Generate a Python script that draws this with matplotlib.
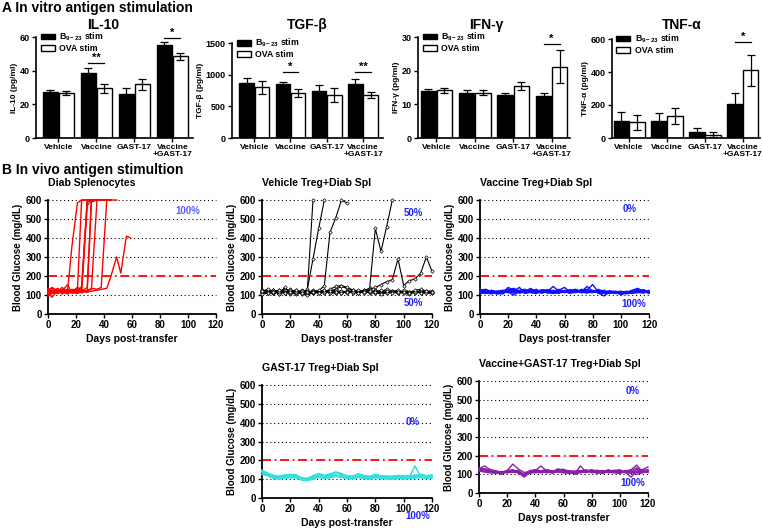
import numpy as np
import matplotlib
matplotlib.use('Agg')
from matplotlib import pyplot as plt
from matplotlib.patches import Patch

plt.rcParams['font.family'] = ['Liberation Sans', 'DejaVu Sans']
plt.rcParams['font.weight'] = 'bold'
plt.rcParams['mathtext.fontset'] = 'custom'
plt.rcParams['mathtext.rm'] = 'Liberation Sans:bold'
plt.rcParams['mathtext.it'] = 'Liberation Sans:bold'
plt.rcParams['mathtext.bf'] = 'Liberation Sans:bold'

#%% data, panel A (in vitro)
groups = ['Vehicle', 'Vaccine', 'GAST-17', 'Vaccine\n+GAST-17']

il10_b, il10_be = [27.2, 38.6, 26.3, 55.0], [1.5, 2.8, 3.4, 2.2]
il10_o, il10_oe = [26.7, 29.5, 31.9, 48.5], [1.2, 2.5, 3.1, 2.0]
tgf_b, tgf_be = [868, 847, 737, 858], [74, 37, 100, 74]
tgf_o, tgf_oe = [800, 710, 674, 674], [100, 64, 110, 47]
ifn_b, ifn_be = [13.9, 13.5, 12.8, 12.6], [0.8, 0.9, 0.7, 0.7]
ifn_o, ifn_oe = [14.2, 13.5, 15.5, 21.2], [0.7, 0.7, 1.2, 4.9]
tnf_b, tnf_be = [105, 101, 34, 206], [55, 50, 26, 67]
tnf_o, tnf_oe = [95, 131, 20, 410], [47, 48, 14, 95]

#%% data, panel B (in vivo) - blood glucose, mg/dL
days = [0, 4, 8, 12, 16, 20, 24, 28, 32, 36, 40, 44, 48, 52, 56, 60,
        64, 68, 72, 76, 80, 84, 88, 92, 96, 100, 104, 108, 112, 116, 120]
days_diab = [0, 3, 7, 10, 14, 17, 21, 24, 28, 31, 35, 38, 42, 45, 49, 52, 56, 59]

diab = [
    [118, 125, 110, 128, 122, 350, 585, 600, 600, 600, 600, 600, 600, 600],
    [105, 120, 135, 115, 110, 130, 125, 600, 600, 600, 600],
    [125, 140, 118, 120, 108, 115, 140, 130, 600, 600, 600, 600, 600],
    [112, 118, 128, 105, 125, 110, 120, 145, 590, 600, 600, 600],
    [130, 110, 115, 140, 118, 125, 110, 120, 140, 600, 600, 600, 600, 600],
    [95, 108, 122, 112, 130, 115, 118, 112, 125, 130, 600, 600, 600, 600],
    [120, 135, 112, 118, 105, 128, 115, 125, 120, 135, 130, 140, 600, 600],
    [100, 115, 120, 110, 125, 112, 108, 118, 115, 120, 125, 130, 135, 200, 300, 215, 410, 400],
    [110, 88, 130, 125, 112, 120, 135, 110, 570, 600, 600],
    [135, 115, 108, 120, 155, 110, 130, 125, 115, 590, 600, 600, 600, 600, 600],
]

vehicle = [
    [120, 110, 125, 105, 115, 130, 112, 118, 125, 600],
    [115, 125, 108, 120, 130, 105, 118, 112, 130, 290, 450, 600],
    [125, 118, 112, 128, 110, 120, 125, 115, 118, 110, 120, 150, 430, 505, 598, 585],
    [112, 120, 118, 110, 125, 115, 108, 120, 115, 118, 112, 125, 118, 110, 120, 115,
     118, 112, 125, 135, 450, 330, 460, 600],
    [118, 112, 125, 120, 110, 118, 115, 125, 120, 112, 118, 115, 122, 130, 145, 135,
     128, 120, 125, 130, 140, 155, 170, 180, 290, 150, 175, 185, 215, 300, 225],
    [118, 125, 110, 112, 128, 120, 105, 118, 112, 125, 120, 115, 130, 145, 150, 140,
     125, 118, 120, 112, 125, 118, 130, 122, 115, 120, 118, 112, 125, 118, 120],
    [110, 118, 125, 105, 140, 112, 118, 110, 105, 120, 115, 112, 118, 125, 118, 120,
     112, 115, 118, 125, 110, 118, 112, 120, 125, 115, 112, 118, 110, 115, 112],
    [125, 112, 118, 120, 115, 108, 112, 120, 118, 110, 125, 120, 112, 118, 110, 115,
     120, 125, 112, 118, 120, 112, 118, 115, 110, 125, 118, 120, 115, 122, 118],
    [105, 110, 115, 118, 110, 125, 115, 105, 98, 115, 110, 118, 112, 110, 120, 112,
     115, 110, 120, 115, 112, 105, 110, 118, 112, 110, 105, 115, 112, 108, 110],
    [120, 130, 118, 125, 112, 118, 125, 112, 115, 118, 112, 125, 120, 115, 112, 118,
     125, 112, 115, 120, 118, 125, 120, 112, 118, 115, 112, 125, 130, 120, 115],
]

vaccine = [
    [118, 125, 112, 108, 120, 132, 115, 118, 125, 120, 112, 118, 128, 122, 115, 120,
     125, 130, 118, 145, 120, 112, 115, 118, 110, 112, 120, 108, 125, 118, 115],
    [112, 118, 120, 105, 110, 140, 125, 110, 118, 128, 120, 125, 110, 118, 130, 115,
     112, 120, 125, 130, 115, 118, 110, 108, 115, 120, 112, 118, 130, 112, 120],
    [125, 130, 118, 112, 105, 125, 135, 120, 112, 118, 125, 115, 120, 145, 120, 118,
     110, 115, 120, 125, 155, 115, 120, 112, 118, 108, 115, 125, 135, 120, 110],
    [108, 112, 125, 118, 112, 118, 120, 140, 108, 115, 118, 128, 125, 112, 110, 125,
     118, 112, 130, 118, 125, 110, 95, 115, 120, 115, 108, 112, 118, 125, 112],
    [120, 115, 110, 115, 118, 112, 128, 115, 120, 135, 115, 110, 118, 120, 125, 140,
     115, 120, 112, 120, 118, 125, 112, 118, 108, 110, 118, 115, 120, 128, 118],
    [115, 108, 115, 120, 125, 120, 110, 125, 130, 112, 108, 120, 115, 125, 118, 112,
     120, 125, 115, 110, 120, 118, 125, 110, 112, 118, 105, 120, 115, 110, 125],
    [128, 122, 118, 110, 115, 128, 118, 112, 115, 120, 130, 112, 122, 115, 110, 118,
     128, 118, 120, 115, 112, 130, 118, 122, 115, 112, 110, 118, 122, 120, 108],
    [110, 115, 105, 118, 122, 115, 100, 118, 110, 125, 118, 122, 112, 108, 115, 120,
     110, 128, 112, 118, 122, 112, 108, 120, 118, 100, 112, 110, 112, 115, 118],
]

gast = [
    [145, 132, 120, 115, 122, 125, 120, 108, 104, 118, 130, 120, 125, 135, 128, 118,
     116, 128, 120, 114, 125, 118, 116, 114, 120, 116, 118, 120, 125, 118, 122],
    [135, 118, 110, 105, 110, 118, 116, 102, 98, 106, 116, 112, 120, 122, 116, 112,
     105, 115, 112, 108, 118, 112, 110, 106, 105, 110, 112, 170, 112, 108, 115],
    [148, 130, 120, 114, 112, 118, 124, 104, 96, 114, 128, 112, 118, 138, 130, 112,
     114, 126, 112, 106, 118, 112, 110, 115, 118, 110, 112, 115, 124, 118, 115],
    [125, 118, 105, 100, 104, 108, 108, 95, 92, 100, 110, 104, 108, 114, 110, 104,
     100, 110, 104, 100, 108, 104, 100, 100, 104, 102, 104, 106, 108, 104, 106],
    [140, 128, 118, 114, 120, 124, 118, 106, 104, 116, 122, 118, 128, 138, 124, 116,
     114, 126, 118, 114, 124, 116, 116, 112, 118, 116, 118, 120, 124, 118, 120],
    [142, 120, 112, 106, 110, 114, 112, 98, 95, 106, 116, 108, 114, 120, 116, 108,
     106, 116, 108, 104, 114, 108, 106, 104, 108, 106, 108, 110, 114, 108, 110],
]

vac_gast = [
    [130, 145, 125, 118, 108, 120, 155, 128, 110, 115, 122, 118, 125, 118, 120, 125,
     118, 112, 120, 118, 125, 115, 108, 120, 115, 112, 118, 125, 150, 112, 120],
    [125, 130, 118, 110, 105, 115, 118, 120, 90, 115, 120, 145, 118, 110, 125, 118,
     112, 105, 145, 112, 118, 110, 115, 125, 110, 118, 112, 85, 118, 125, 140],
    [120, 118, 112, 115, 110, 108, 112, 118, 100, 118, 115, 112, 110, 120, 115, 112,
     108, 110, 115, 122, 112, 118, 120, 108, 115, 110, 120, 115, 110, 112, 115],
    [135, 125, 120, 108, 115, 112, 115, 110, 85, 110, 118, 120, 108, 112, 130, 120,
     115, 100, 110, 118, 120, 112, 105, 115, 118, 125, 108, 120, 112, 118, 110],
    [128, 120, 115, 112, 100, 118, 110, 115, 95, 112, 108, 115, 120, 105, 118, 110,
     120, 115, 108, 125, 108, 115, 118, 110, 112, 115, 110, 105, 128, 115, 112],
    [118, 112, 108, 105, 112, 110, 120, 105, 98, 105, 112, 108, 115, 110, 112, 108,
     105, 110, 112, 110, 115, 105, 110, 112, 108, 105, 115, 110, 100, 108, 118],
    [132, 128, 122, 118, 112, 120, 125, 112, 92, 120, 125, 118, 125, 115, 122, 128,
     110, 118, 120, 115, 118, 122, 112, 118, 122, 120, 112, 118, 135, 122, 125],
]

#%% figure
W, H = 763, 531
fig = plt.figure(figsize=(W / 100, H / 100), dpi=100)

def rect(l, r, t, b):
    return [l / W, 1 - b / H, (r - l) / W, (b - t) / H]

def style(ax, lw=1.2):
    for s in ['top', 'right']:
        ax.spines[s].set_visible(False)
    for s in ['left', 'bottom']:
        ax.spines[s].set_linewidth(lw)
    ax.tick_params(direction='out', length=3, width=1, pad=1.5)

fig.text(2 / W, 1 - 8 / H, 'A In vitro antigen stimulation', fontsize=10,
         fontweight='bold', va='center', ha='left')
fig.text(2 / W, 1 - 170 / H, 'B In vivo antigen stimultion', fontsize=10,
         fontweight='bold', va='center', ha='left')

def bar_panel(pos, xl, title, tpos, ylab, b, be, o, oe, ymax, yt, sig):
    ax = fig.add_axes(pos)
    x = np.arange(len(groups))
    ax.bar(x - 0.21, b, 0.4, color='black', edgecolor='black', lw=1)
    ax.errorbar(x - 0.21, b, yerr=be, fmt='none', ecolor='black', elinewidth=0.9, capsize=3, capthick=0.9)
    ax.bar(x + 0.21, o, 0.4, color='white', edgecolor='black', lw=1)
    ax.errorbar(x + 0.21, o, yerr=oe, fmt='none', ecolor='black', elinewidth=0.9, capsize=3, capthick=0.9)
    ax.set_xlim(xl)
    ax.set_ylim(0, ymax)
    ax.set_yticks(yt)
    ax.set_xticks(x)
    ax.set_xticklabels(groups, fontsize=6, fontweight='bold', linespacing=1.0)
    ax.tick_params(axis='x', length=0, pad=4)
    ax.tick_params(axis='y', labelsize=6.5)
    ax.set_ylabel(ylab, fontsize=6, fontweight='bold', labelpad=1)
    style(ax)
    fig.text(tpos[0] / W, 1 - tpos[1] / H, title, ha='center', va='center',
             fontsize=10, fontweight='bold')
    for g, yy, s in sig:
        ax.plot([g - 0.21, g + 0.21], [yy, yy], color='black', lw=0.9, clip_on=False)
        ax.text(g, yy, s, ha='center', va='bottom', fontsize=8, fontweight='bold')
    handles = [Patch(facecolor='black', edgecolor='black'),
               Patch(facecolor='white', edgecolor='black', lw=1)]
    ax.legend(handles, ['B$_{9-23}$ stim', 'OVA stim'], loc='upper left',
              bbox_to_anchor=(0.03, 1.065), frameon=False, fontsize=6.3,
              handlelength=1.6, handleheight=0.6, labelspacing=0.1,
              borderpad=0, borderaxespad=0, handletextpad=0.5)
    return ax

bar_panel(rect(36, 193, 37, 138), (-0.59, 3.54), 'IL-10', (103, 25), 'IL-10 (pg/ml)',
          il10_b, il10_be, il10_o, il10_oe, 60, [0, 20, 40, 60],
          [(1, 44.6, '**'), (3, 59.4, '*')])
bar_panel(rect(232, 383, 43, 138), (-0.61, 3.55), 'TGF-β', (307, 25), 'TGF-β (pg/ml)',
          tgf_b, tgf_be, tgf_o, tgf_oe, 1500, [0, 500, 1000, 1500],
          [(1, 1042, '*'), (3, 1042, '**')])
bar_panel(rect(418, 570, 37, 138), (-0.48, 3.48), 'IFN-γ', (486, 25), 'IFN-γ (pg/ml)',
          ifn_b, ifn_be, ifn_o, ifn_oe, 30, [0, 10, 20, 30],
          [(3, 28.0, '*')])
bar_panel(rect(612, 760, 39, 138), (-0.45, 3.45), 'TNF-α', (682, 25), 'TNF-α (pg/ml)',
          tnf_b, tnf_be, tnf_o, tnf_oe, 600, [0, 200, 400, 600],
          [(3, 580, '*')])

def line_panel(pos, title, series, xs, color, pcts, marker=None, lw=1.0):
    ax = fig.add_axes(pos)
    for yv in [100, 300, 400, 500, 600]:
        ax.axhline(yv, color='black', lw=0.8, ls=(0, (1, 2.5)), zorder=1, clip_on=False)
    ax.axhline(200, color='red', lw=1.3, ls=(0, (5, 2, 1, 2)), zorder=1)
    for v in series:
        n = min(len(xs), len(v))
        if marker:
            ax.plot(xs[:n], v[:n], color=color, lw=lw, marker=marker, ms=1.8,
                    mfc='white', mew=0.5, zorder=3, clip_on=False)
        else:
            ax.plot(xs[:n], v[:n], color=color, lw=lw, zorder=3, clip_on=False)
    ax.set_xlim(0, 120)
    ax.set_ylim(0, 600)
    ax.set_xticks([0, 20, 40, 60, 80, 100, 120])
    ax.set_yticks([0, 100, 200, 300, 400, 500, 600])
    ax.tick_params(labelsize=7)
    ax.set_xlabel('Days post-transfer', fontsize=7.5, fontweight='bold', labelpad=3)
    ax.set_ylabel('Blood Glucose (mg/dL)', fontsize=7, fontweight='bold', labelpad=2)
    ax.set_title(title, fontsize=7.6, fontweight='bold', loc='left', pad=10)
    style(ax, 1.3)
    for tx, ty, s, c in pcts:
        ax.text(tx, ty, s, color=c, fontsize=7, fontweight='bold', ha='center',
                va='center', clip_on=False)
    return ax

blue = '#1f1fff'
line_panel(rect(48, 216, 200, 314), 'Diab Splenocytes', diab, days_diab, 'red',
           [(100, 542, '100%', '#5a5aff')])
line_panel(rect(262, 432, 200, 314), 'Vehicle Treg+Diab Spl', vehicle, days, 'black',
           [(107, 531, '50%', blue), (107, 58, '50%', blue)], marker='D', lw=0.8)
line_panel(rect(480, 649, 200, 314), 'Vaccine Treg+Diab Spl', vaccine, days, '#1010ff',
           [(106, 552, '0%', blue), (109, 53, '100%', blue)])
line_panel(rect(262, 432, 385, 498), 'GAST-17 Treg+Diab Spl', gast, days, '#33e0e0',
           [(106, 403, '0%', blue), (110, -95, '100%', blue)], lw=1.1)
line_panel(rect(479, 648, 381, 493), 'Vaccine+GAST-17 Treg+Diab Spl', vac_gast, days, '#8a1fa8',
           [(109, 546, '0%', blue), (109, 54, '100%', blue)])

fig.savefig('out.png', dpi=100)
